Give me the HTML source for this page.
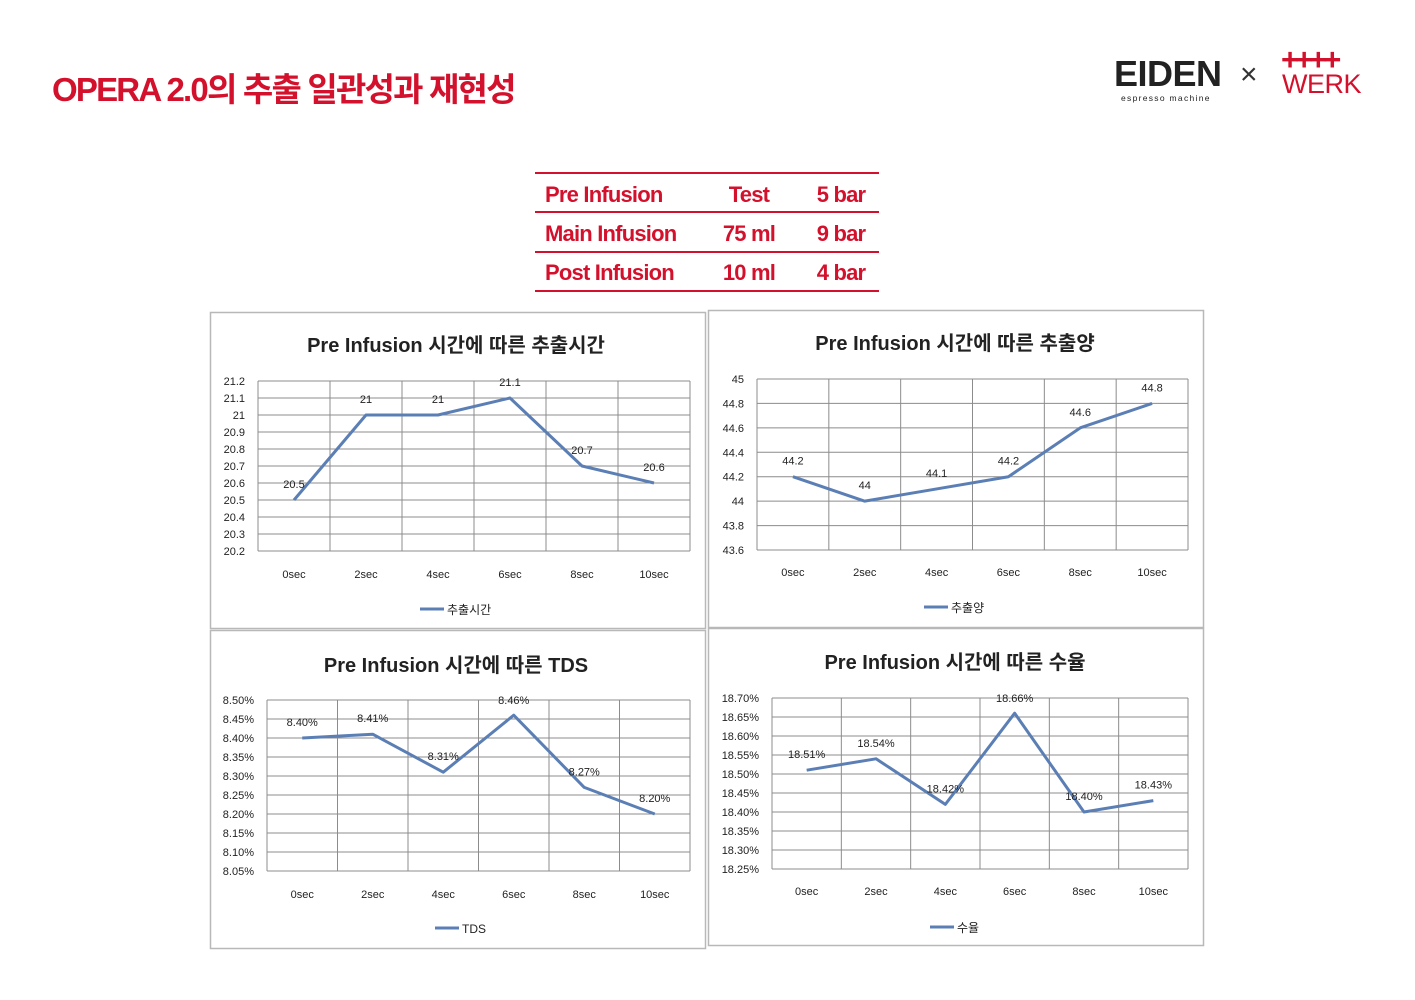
<!DOCTYPE html>
<html><head><meta charset="utf-8">
<style>
body{margin:0;background:#fff;width:1415px;height:1000px;overflow:hidden;position:relative;font-family:"Liberation Sans","Noto Sans CJK KR",sans-serif}
.abs{position:absolute}
#title{left:52px;top:63px;font-size:33px;font-weight:bold;color:#d3112c;letter-spacing:-1.8px;white-space:nowrap}
.tbl{color:#d3112c;font-weight:bold;font-size:22px;letter-spacing:-0.8px;white-space:nowrap}
.hl{left:535px;width:344px;height:2px;background:#d3112c}
</style></head><body>
<div id="title" class="abs">OPERA 2.0의 추출 일관성과 재현성</div>
<div class="abs" style="left:1114px;top:56px;font-size:36px;font-weight:bold;color:#222;letter-spacing:-0.5px;line-height:36px">EIDEN</div>
<div class="abs" style="left:1121px;top:93px;font-size:8.5px;color:#222;letter-spacing:1.3px">espresso machine</div>
<div class="abs" style="left:1240px;top:58px;font-size:30px;color:#333;line-height:34px">×</div>
<div class="abs" style="left:1281px;top:46px;font-size:31px;font-weight:bold;color:#d3112c;letter-spacing:-4px;line-height:28px">++++</div>
<div class="abs" style="left:1282px;top:70px;font-size:27px;color:#d3112c;line-height:28px;letter-spacing:-0.5px">WERK</div>

<div class="abs hl" style="top:172px"></div>
<div class="abs hl" style="top:211px"></div>
<div class="abs hl" style="top:251px"></div>
<div class="abs hl" style="top:290px"></div>
<div class="abs tbl" style="left:545px;top:182px">Pre Infusion</div>
<div class="abs tbl" style="left:700px;width:98px;text-align:center;top:182px">Test</div>
<div class="abs tbl" style="left:800px;width:82px;text-align:center;top:182px">5 bar</div>
<div class="abs tbl" style="left:545px;top:221px">Main Infusion</div>
<div class="abs tbl" style="left:700px;width:98px;text-align:center;top:221px">75 ml</div>
<div class="abs tbl" style="left:800px;width:82px;text-align:center;top:221px">9 bar</div>
<div class="abs tbl" style="left:545px;top:260px">Post Infusion</div>
<div class="abs tbl" style="left:700px;width:98px;text-align:center;top:260px">10 ml</div>
<div class="abs tbl" style="left:800px;width:82px;text-align:center;top:260px">4 bar</div>

<svg id="charts" class="abs" style="left:0;top:0" width="1415" height="1000"></svg>
<script>
const categories=["0sec","2sec","4sec","6sec","8sec","10sec"];
const timeValues=[20.5,21,21,21.1,20.7,20.6];
const volumeValues=[44.2,44,44.1,44.2,44.6,44.8];
const tdsValues=[8.40,8.41,8.31,8.46,8.27,8.20];
const yieldValues=[18.51,18.54,18.42,18.66,18.40,18.43];
const timeTicks=[20.2,20.3,20.4,20.5,20.6,20.7,20.8,20.9,21,21.1,21.2];
const volumeTicks=[43.6,43.8,44,44.2,44.4,44.6,44.8,45];
const tdsTicks=[8.05,8.10,8.15,8.20,8.25,8.30,8.35,8.40,8.45,8.50];
const yieldTicks=[18.25,18.30,18.35,18.40,18.45,18.50,18.55,18.60,18.65,18.70];

const NS="http://www.w3.org/2000/svg";
const svg=document.getElementById('charts');
function el(t,a,p){const e=document.createElementNS(NS,t);for(const k in a)e.setAttribute(k,a[k]);(p||svg).appendChild(e);return e;}
function txt(x,y,s,size,anchor,p,weight){const t=el('text',{x:x,y:y,'font-size':size,'text-anchor':anchor,fill:'#222','font-family':'"Liberation Sans","Noto Sans CJK KR",sans-serif','font-weight':weight||'normal'},p);t.textContent=s;return t;}

function chart(cfg){
  const g=el('g',{});
  
  
  const fr=el('rect',{x:cfg.box[0]+0.5,y:cfg.box[1]+0.5,width:cfg.box[2],height:cfg.box[3],fill:'#fff',stroke:'#b8b8b8','stroke-width':1.5},g);
  
  
  const t=txt(cfg.titleX,cfg.titleY,cfg.title,20,'middle',g,'bold');
  
  
  const [L,T,R,B]=cfg.plot;
  const ticks=cfg.ticks, mn=ticks[0], mx=ticks[ticks.length-1];
  const ys=v=>B-(v-mn)/(mx-mn)*(B-T);
  const cw=(R-L)/categories.length;
  const xs=i=>L+cw*(i+0.5);
  ticks.forEach(v=>{
    const ln=el('line',{x1:L,x2:R,y1:ys(v),y2:ys(v),stroke:'#8c8c8c','stroke-width':1},g);
    
    
    const tl=txt(L-13,ys(v)+4,cfg.fmtTick(v),11,'end',g);
    
    
  });
  for(let i=0;i<=categories.length;i++){
    const ln=el('line',{x1:L+cw*i,x2:L+cw*i,y1:T,y2:B,stroke:'#8c8c8c','stroke-width':1},g);
    
    
  }
  categories.forEach((c,i)=>{
    const tl=txt(xs(i),cfg.xLabelY,c,11,'middle',g);
    
    
  });
  const pts=cfg.values.map((v,i)=>xs(i)+','+ys(v)).join(' ');
  const pl=el('polyline',{points:pts,fill:'none',stroke:'#5b7fb5','stroke-width':3,'stroke-linejoin':'round'},g);
  
  
  cfg.values.forEach((v,i)=>{
    const lab=txt(xs(i),Math.max(ys(v)-12,T+4),cfg.fmtVal(v),11,'middle',g);
    
    
  });
  const lx=cfg.legendX, ly=cfg.legendY;
  const ll=el('line',{x1:lx,x2:lx+24,y1:ly,y2:ly,stroke:'#5b7fb5','stroke-width':3},g);
  
  
  const lt=txt(lx+27,ly+5,cfg.legend,12,'start',g);
  
  
}
const f1=v=>String(Math.round(v*10)/10);
const fp=v=>v.toFixed(2)+'%';
chart({name:'chart-extraction-time',box:[210,312,495,316],title:'Pre Infusion 시간에 따른 추출시간',titleX:456,titleY:352,plot:[258,381,690,551],ticks:timeTicks,values:timeValues,fmtTick:f1,fmtVal:f1,xLabelY:578,legend:'추출시간',legendX:420,legendY:609});
chart({name:'chart-extraction-volume',box:[708,310,495,317],title:'Pre Infusion 시간에 따른 추출양',titleX:955,titleY:350,plot:[757,379,1188,550],ticks:volumeTicks,values:volumeValues,fmtTick:f1,fmtVal:f1,xLabelY:576,legend:'추출양',legendX:924,legendY:607});
chart({name:'chart-tds',box:[210,630,495,318],title:'Pre Infusion 시간에 따른 TDS',titleX:456,titleY:672,plot:[267,700,690,871],ticks:tdsTicks,values:tdsValues,fmtTick:fp,fmtVal:fp,xLabelY:898,legend:'TDS',legendX:435,legendY:928});
chart({name:'chart-yield',box:[708,628,495,317],title:'Pre Infusion 시간에 따른 수율',titleX:955,titleY:669,plot:[772,698,1188,869],ticks:yieldTicks,values:yieldValues,fmtTick:fp,fmtVal:fp,xLabelY:895,legend:'수율',legendX:930,legendY:927});
</script>
</body></html>
